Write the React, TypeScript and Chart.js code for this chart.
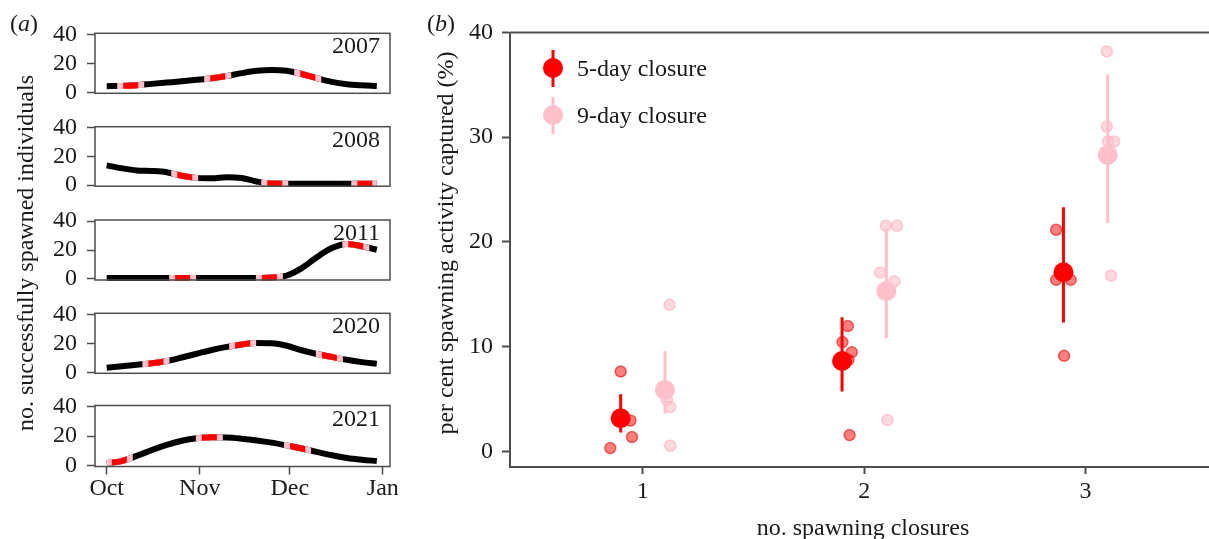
import React, { useEffect, useRef } from "react";
import { Chart, registerables } from "chart.js";

Chart.register(...registerables);

const FONT = "'Liberation Serif', 'Times New Roman', Times, serif";
const TEXT = "#1a1a1a";
const AXIS = "#4d4d4d";
const RED = "#ff0000";
const PINK = "#ffc0cb";

// ---------------- panel (a) data ----------------
const years = ["2007", "2008", "2011", "2020", "2021"];
// days since 1 October
const seasonDays = [0, 5, 10, 15, 20, 25, 30, 35, 40, 45, 50, 55, 60, 65, 70, 75, 80, 85, 90];
const spawned2007 = [4.2, 4.4, 4.9, 5.8, 6.7, 7.6, 8.6, 9.7, 11.2, 13.2, 14.8, 15.4, 14.8, 12.6, 9.8, 7.2, 5.6, 4.8, 4.3];
const spawned2008 = [13.8, 11.8, 10.3, 9.9, 9.0, 6.6, 5.1, 4.8, 5.6, 5.0, 2.6, 1.1, 1.0, 1.0, 1.0, 1.0, 1.0, 1.0, 1.0];
const spawned2011 = [0.7, 0.7, 0.7, 0.7, 0.7, 0.7, 0.7, 0.7, 0.7, 0.7, 0.7, 1.0, 2.4, 7.5, 15.0, 21.3, 24.2, 22.6, 20.2];
const spawned2020 = [3.2, 4.2, 5.2, 6.2, 7.8, 10.2, 12.8, 15.4, 17.5, 19.2, 20.2, 20.0, 18.3, 15.2, 12.6, 10.6, 8.6, 7.0, 5.8];
const spawned2021 = [1.6, 3.0, 6.5, 10.4, 14.0, 16.8, 18.5, 19.1, 19.0, 18.2, 17.0, 15.5, 13.6, 11.5, 9.2, 6.9, 5.1, 3.9, 3.0];
const spawnedByYear = [spawned2007, spawned2008, spawned2011, spawned2020, spawned2021];

// centre day of each spawning closure
const closures2007 = [8, 37, 67];
const closures2008 = [26, 56, 86];
const closures2011 = [25.3, 54.2, 83];
const closures2020 = [16.4, 45.3, 74.2];
const closures2021 = [4.2, 34.2, 63.6];
const closuresByYear = [closures2007, closures2008, closures2011, closures2020, closures2021];
const FIVE_DAY_HALF = 2.5;
const NINE_DAY_HALF = 4.5;

const monthTickDays = [0, 31, 61, 92];
const monthLabels = ["Oct", "Nov", "Dec", "Jan"];
const countTicks = [0, 20, 40];

// ---------------- panel (b) data ----------------
const closureCounts = [1, 2, 3];
const dodge5 = -0.1;
const dodge9 = 0.1;
const mean5 = [3.16, 8.62, 17.1];
const lower5 = [1.8, 5.7, 12.3];
const upper5 = [5.45, 12.8, 23.3];
const mean9 = [5.86, 15.3, 28.3];
const lower9 = [3.6, 10.8, 21.8];
const upper9 = [9.55, 21.3, 36.0];
const indiv5X = [0.853, 0.9, 0.944, 0.951, 1.926, 1.902, 1.944, 1.929, 1.934, 2.867, 2.867, 2.933, 2.903];
const indiv5Y = [0.31, 7.62, 2.94, 1.36, 11.96, 10.43, 9.47, 8.74, 1.55, 21.16, 16.38, 16.38, 9.12];
const indiv9X = [1.121, 1.109, 1.124, 1.124, 2.098, 2.148, 2.072, 2.137, 2.105, 3.096, 3.096, 3.102, 3.129, 3.115];
const indiv9Y = [13.99, 4.9, 4.22, 0.53, 21.54, 21.54, 17.08, 16.22, 2.98, 38.19, 31.02, 29.59, 29.59, 16.79];
const percentTicks = [0, 10, 20, 30, 40];
const legendLabels = ["5-day closure", "9-day closure"];

// ---------------- layout ----------------
const W = 1209;
const H = 539;
const BOX_TOPS = [33.3, 126.7, 220, 313.3, 405.5];
const BOX_H = [60, 59.5, 60, 60, 61];
const A_LEFT = 95;
const A_WIDTH = 400;
const A_RIGHT_PAD = 10;

function panelGeo(i: number) {
  const isLast = i === years.length - 1;
  const canvasTop = Math.floor(BOX_TOPS[i]) - 30;
  const padTop = BOX_TOPS[i] - canvasTop;
  const h = BOX_H[i];
  const canvasH = isLast ? H - canvasTop : Math.ceil(padTop + h + 25);
  const xAxisH = canvasH - padTop - h;
  return { isLast, canvasTop, padTop, canvasH, xAxisH };
}

const B_LEFT = 400;
const B_WIDTH = 840;
const B_AXIS_W = 110;
const B_TOP = 32.5;
const B_BOTTOM_AXIS = H - 467;
const B_RIGHT_PAD = B_WIDTH - 818.4;

function makePanelPlugin(year: string, centers: number[]) {
  return {
    id: "closureOverlay" + year,
    afterDatasetsDraw(chart: any) {
      const meta = chart.getDatasetMeta(0);
      const line = meta.dataset as any;
      const xs = chart.scales.x;
      const { top, bottom } = chart.chartArea;
      const ctx = chart.ctx as CanvasRenderingContext2D;
      const overlay = (half: number, color: string) => {
        for (const c of centers) {
          const x0 = xs.getPixelForValue(c - half);
          const x1 = xs.getPixelForValue(c + half);
          ctx.save();
          ctx.beginPath();
          ctx.rect(x0, top - 10, x1 - x0, bottom - top + 20);
          ctx.clip();
          ctx.beginPath();
          line.path(ctx);
          ctx.strokeStyle = color;
          ctx.lineWidth = 6;
          ctx.lineCap = "butt";
          ctx.lineJoin = "round";
          ctx.stroke();
          ctx.restore();
        }
      };
      overlay(NINE_DAY_HALF, PINK);
      overlay(FIVE_DAY_HALF, RED);
    },
    afterDraw(chart: any) {
      const { left, top, right, bottom } = chart.chartArea;
      const ctx = chart.ctx as CanvasRenderingContext2D;
      ctx.save();
      ctx.strokeStyle = AXIS;
      ctx.lineWidth = 1.5;
      ctx.strokeRect(left, top, right - left, bottom - top);
      ctx.fillStyle = TEXT;
      ctx.font = `24px ${FONT}`;
      ctx.textAlign = "right";
      ctx.textBaseline = "alphabetic";
      ctx.fillText(year, right - 10, top + 20);
      ctx.restore();
    },
  };
}

function makePanelAConfig(i: number): any {
  const g = panelGeo(i);
  const vals = spawnedByYear[i];
  return {
    type: "line",
    data: {
      datasets: [
        {
          data: seasonDays.map((d, k) => ({ x: d, y: vals[k] })),
          borderColor: "#000",
          borderWidth: 6,
          pointRadius: 0,
          pointHoverRadius: 0,
          tension: 0.4,
          cubicInterpolationMode: "monotone",
          borderCapStyle: "butt",
          fill: false,
          clip: false,
        },
      ],
    },
    options: {
      responsive: false,
      animation: false,
      events: [],
      layout: { padding: { top: g.padTop, right: A_RIGHT_PAD, left: 0, bottom: 0 } },
      plugins: { legend: { display: false }, tooltip: { enabled: false } },
      scales: {
        x: {
          type: "linear",
          min: -3.9,
          max: 94.4,
          bounds: "data",
          afterBuildTicks: (s: any) => {
            s.ticks = monthTickDays.map((v) => ({ value: v }));
          },
          afterFit: (s: any) => {
            s.height = g.xAxisH;
          },
          ticks: {
            display: g.isLast,
            autoSkip: false,
            maxRotation: 0,
            padding: 0,
            color: TEXT,
            font: { family: FONT, size: 24 },
            callback: (v: number) => monthLabels[monthTickDays.indexOf(v)] ?? "",
          },
          grid: {
            display: g.isLast,
            drawOnChartArea: false,
            drawTicks: g.isLast,
            tickLength: 8,
            tickColor: AXIS,
            tickWidth: 1.5,
          },
          border: { display: false },
        },
        y: {
          type: "linear",
          min: -0.7,
          max: 40.7,
          bounds: "data",
          afterBuildTicks: (s: any) => {
            s.ticks = countTicks.map((v) => ({ value: v }));
          },
          afterFit: (s: any) => {
            s.width = A_LEFT;
          },
          ticks: {
            padding: 10,
            autoSkip: false,
            color: TEXT,
            font: { family: FONT, size: 24 },
            callback: (v: number) => String(v),
          },
          grid: {
            drawOnChartArea: false,
            tickLength: 8,
            tickColor: AXIS,
            tickWidth: 1.5,
          },
          border: { display: false },
        },
      },
    },
    plugins: [makePanelPlugin(years[i], closuresByYear[i])],
  };
}

const panelBPlugin = {
  id: "panelBExtras",
  afterDraw(chart: any) {
    const { left, top, right } = chart.chartArea;
    const ctx = chart.ctx as CanvasRenderingContext2D;
    ctx.save();
    ctx.strokeStyle = AXIS;
    ctx.lineWidth = 2;
    ctx.beginPath();
    ctx.moveTo(left, top);
    ctx.lineTo(right, top);
    ctx.stroke();
    const x = left + 43;
    [RED, PINK].forEach((color, i) => {
      const cy = top + 35.5 + i * 47;
      ctx.strokeStyle = color;
      ctx.lineWidth = 3;
      ctx.beginPath();
      ctx.moveTo(x, cy - 18);
      ctx.lineTo(x, cy + 19);
      ctx.stroke();
      ctx.fillStyle = color;
      ctx.beginPath();
      ctx.arc(x, cy, 10, 0, Math.PI * 2);
      ctx.fill();
      ctx.fillStyle = TEXT;
      ctx.font = `24px ${FONT}`;
      ctx.textAlign = "left";
      ctx.textBaseline = "alphabetic";
      ctx.fillText(legendLabels[i], x + 24, cy + 8);
    });
    ctx.restore();
  },
};

function errorBarData(dodge: number, lo: number[], hi: number[]) {
  const out: any[] = [];
  closureCounts.forEach((c, i) => {
    out.push({ x: c + dodge, y: lo[i] });
    out.push({ x: c + dodge, y: hi[i] });
    out.push({ x: c + dodge, y: null });
  });
  return out;
}

function makePanelBConfig(): any {
  return {
    type: "scatter",
    data: {
      datasets: [
        {
          label: "5-day closure",
          data: closureCounts.map((c, i) => ({ x: c + dodge5, y: mean5[i] })),
          pointRadius: 10,
          pointHoverRadius: 10,
          backgroundColor: RED,
          borderWidth: 0,
          order: 1,
        },
        {
          label: "9-day closure",
          data: closureCounts.map((c, i) => ({ x: c + dodge9, y: mean9[i] })),
          pointRadius: 10,
          pointHoverRadius: 10,
          backgroundColor: PINK,
          borderWidth: 0,
          order: 1,
        },
        {
          label: "5-day interval",
          data: errorBarData(dodge5, lower5, upper5),
          showLine: true,
          spanGaps: false,
          borderColor: RED,
          borderWidth: 3,
          borderCapStyle: "butt",
          pointRadius: 0,
          pointHoverRadius: 0,
          order: 2,
        },
        {
          label: "9-day interval",
          data: errorBarData(dodge9, lower9, upper9),
          showLine: true,
          spanGaps: false,
          borderColor: PINK,
          borderWidth: 3,
          borderCapStyle: "butt",
          pointRadius: 0,
          pointHoverRadius: 0,
          order: 2,
        },
        {
          label: "5-day individual",
          data: indiv5X.map((x, i) => ({ x, y: indiv5Y[i] })),
          pointRadius: 5.5,
          pointHoverRadius: 5.5,
          backgroundColor: "rgba(255,0,0,0.5)",
          borderColor: "rgba(215,0,0,0.55)",
          borderWidth: 1.5,
          order: 3,
        },
        {
          label: "9-day individual",
          data: indiv9X.map((x, i) => ({ x, y: indiv9Y[i] })),
          pointRadius: 5.5,
          pointHoverRadius: 5.5,
          backgroundColor: "rgba(255,192,203,0.6)",
          borderColor: "rgba(255,170,185,0.6)",
          borderWidth: 1.5,
          order: 3,
        },
      ],
    },
    options: {
      responsive: false,
      animation: false,
      events: [],
      layout: { padding: { top: B_TOP, right: B_RIGHT_PAD, left: 0, bottom: 0 } },
      plugins: { legend: { display: false }, tooltip: { enabled: false } },
      scales: {
        x: {
          type: "linear",
          min: 0.4,
          max: 3.6,
          bounds: "data",
          afterBuildTicks: (s: any) => {
            s.ticks = closureCounts.map((v) => ({ value: v }));
          },
          afterFit: (s: any) => {
            s.height = B_BOTTOM_AXIS;
          },
          ticks: {
            padding: 3,
            color: TEXT,
            autoSkip: false,
            maxRotation: 0,
            font: { family: FONT, size: 24 },
            callback: (v: number) => String(v),
          },
          grid: {
            drawOnChartArea: false,
            tickLength: 7,
            tickColor: AXIS,
            tickWidth: 2,
          },
          border: { display: true, color: AXIS, width: 2 },
        },
        y: {
          type: "linear",
          min: -1.5,
          max: 40,
          bounds: "data",
          afterBuildTicks: (s: any) => {
            s.ticks = percentTicks.map((v) => ({ value: v }));
          },
          afterFit: (s: any) => {
            s.width = B_AXIS_W;
          },
          ticks: {
            padding: 9,
            autoSkip: false,
            color: TEXT,
            font: { family: FONT, size: 24 },
            callback: (v: number) => String(v),
          },
          grid: {
            drawOnChartArea: false,
            tickLength: 8,
            tickColor: AXIS,
            tickWidth: 2,
          },
          border: { display: true, color: AXIS, width: 2 },
        },
      },
    },
    plugins: [panelBPlugin],
  };
}

const textBase: React.CSSProperties = {
  position: "absolute",
  fontFamily: FONT,
  fontSize: 24,
  lineHeight: "24px",
  color: TEXT,
  whiteSpace: "nowrap",
};

export default function App() {
  const aRefs = useRef<(HTMLCanvasElement | null)[]>([]);
  const bRef = useRef<HTMLCanvasElement | null>(null);

  useEffect(() => {
    const charts: Chart[] = [];
    years.forEach((_, i) => {
      const c = aRefs.current[i];
      if (c) charts.push(new Chart(c, makePanelAConfig(i)));
    });
    if (bRef.current) charts.push(new Chart(bRef.current, makePanelBConfig()));
    return () => charts.forEach((c) => c.destroy());
  }, []);

  return (
    <div
      style={{
        position: "fixed",
        left: 0,
        top: 0,
        width: W,
        height: H,
        overflow: "hidden",
        background: "#fff",
      }}
    >
      {years.map((y, i) => {
        const g = panelGeo(i);
        return (
          <canvas
            key={y}
            ref={(el) => {
              aRefs.current[i] = el;
            }}
            width={A_WIDTH}
            height={g.canvasH}
            style={{ position: "absolute", left: 0, top: g.canvasTop, width: A_WIDTH, height: g.canvasH }}
          />
        );
      })}
      <canvas
        ref={bRef}
        width={B_WIDTH}
        height={H}
        style={{ position: "absolute", left: B_LEFT, top: 0, width: B_WIDTH, height: H }}
      />
      <div style={{ ...textBase, left: 10, top: 10.6 }}>
        (<i>a</i>)
      </div>
      <div style={{ ...textBase, left: 427, top: 10.6 }}>
        (<i>b</i>)
      </div>
      <div
        style={{
          ...textBase,
          left: 25,
          top: 252.5,
          transform: "translate(-50%, -50%) rotate(-90deg)",
        }}
      >
        no. successfully spawned individuals
      </div>
      <div
        style={{
          ...textBase,
          left: 445,
          top: 243,
          transform: "translate(-50%, -50%) rotate(-90deg)",
        }}
      >
        per cent spawning activity captured (%)
      </div>
      <div style={{ ...textBase, left: 863, top: 515, transform: "translateX(-50%)" }}>
        no. spawning closures
      </div>
    </div>
  );
}
